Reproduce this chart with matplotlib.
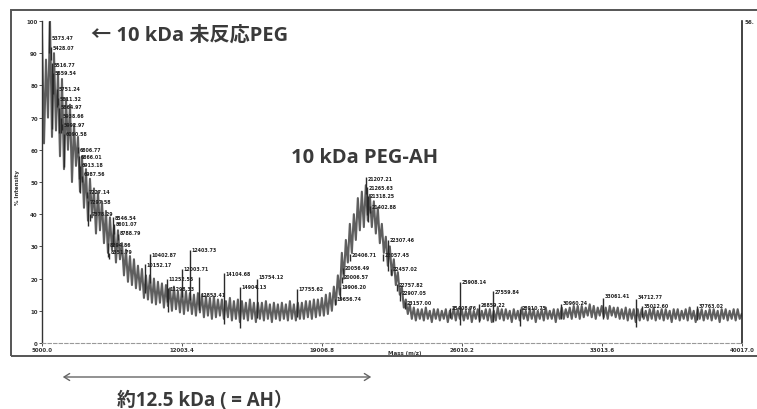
import numpy as np
import matplotlib
matplotlib.use('Agg')
import matplotlib.pyplot as plt
from matplotlib.patches import Rectangle, FancyArrowPatch

plt.rcParams['font.family'] = ['Noto Sans CJK JP', 'DejaVu Sans']

# ---------------- data ----------------
mass_start = 5000.0
mass_step = 100.0
intensity = [
    96, 62, 88, 70, 100, 64, 90, 66, 84, 58,
    82, 54, 76, 60, 74, 50, 68, 55, 64, 47,
    58, 42, 54, 38, 51, 39, 48, 34, 47, 35,
    44, 31, 41, 28, 39, 29, 36, 25, 35, 26,
    31, 21, 29, 19, 27, 18, 26, 17, 24, 16.5,
    23, 14, 21, 13.5, 21, 12.5, 20, 12, 19, 12.5,
    18.5, 11, 18, 11.5, 17, 10, 17.5, 10.5, 16, 9.5,
    16.5, 9, 16, 10, 15.5, 9, 15, 8.5, 15.5, 9.5,
    15, 8, 14.5, 8.5, 14, 7.5, 14.5, 8, 13.5, 8.5,
    13.5, 7.5, 13, 8, 14, 7, 13, 7.5, 13.5, 6.5,
    13, 7.5, 12.5, 7, 13.5, 7.5, 12.5, 6.5, 12.5, 7.5,
    12.5, 7, 13, 7.5, 12, 6.5, 12.5, 7.5, 12, 7,
    12.5, 7.5, 12, 7, 13, 7.5, 12, 7, 12.5, 7.5,
    12.5, 7.5, 13, 8, 13, 7.5, 13.5, 8, 13.5, 8.5,
    14, 8.5, 15, 9, 15.5, 10, 17.5, 12, 21, 15,
    28, 20, 32, 25, 37, 28, 40, 32, 45, 35,
    47, 36, 49, 38, 46, 36, 44, 34, 42, 31,
    37, 28, 33, 24, 30, 21, 26, 18, 22, 15,
    17.5, 11, 13.5, 9, 12, 7.5, 11, 7, 10.5, 7.5,
    10.5, 7, 11, 7.5, 10, 6.5, 10.5, 7.5, 10.5, 7,
    10, 7.5, 10.5, 6.5, 10, 7.5, 11, 7, 10.5, 7.5,
    10.5, 7, 10, 7.5, 11, 6.5, 10, 7.5, 10.5, 7,
    10, 7.5, 10.5, 7, 10.5, 6.5, 10, 7, 11, 7.5,
    10.5, 7, 10.5, 7.5, 10, 6.5, 10.5, 7.5, 10, 7,
    11, 7.5, 10, 7, 10.5, 7.5, 10.5, 6.5, 10, 7.5,
    10.5, 7, 11, 7.5, 10, 7.5, 10.5, 6.5, 10.5, 7.5,
    11, 7.5, 10.5, 8, 11, 7.5, 11.5, 8, 11.5, 7.5,
    11.5, 8, 11, 8.5, 12, 8, 11.5, 7.5, 11, 8.5,
    11.5, 8, 11, 7.5, 11.5, 8.5, 11, 8, 11, 7.5,
    10.5, 7.5, 11, 7, 10.5, 7.5, 10.5, 6.5, 10.5, 7,
    10.5, 7.5, 10, 7, 10.5, 7.5, 11, 7, 10, 7.5,
    10.5, 7, 10.5, 7.5, 10, 6.5, 10.5, 7.5, 10.5, 7,
    10, 7.5, 10.5, 7, 11, 7.5, 10, 6.5, 10.5, 7.5,
    10.5, 7, 10, 7.5, 10.5, 7, 10.5, 7.5, 10, 6.5,
    10.5, 7.5, 10.5, 7, 10, 7.5, 10.5, 7, 10.5, 7.5,
    9,
]

# labelled peaks: mass (m/z), peak height (%), level of its label (%)
peak_masses = [5373.47, 5428.07, 5516.77, 5559.54, 5751.24, 5811.32, 5864.97,
               5938.66, 5992.97, 6090.58, 6806.77, 6866.01, 6913.18, 6987.56,
               7227.14, 7297.58, 7378.29, 8294.86, 8351.79, 8546.54, 8601.07,
               8788.79, 10152.17, 10402.87, 11252.56, 11298.33, 12003.71,
               12403.73, 12853.41, 14104.68, 14904.13, 15754.12, 17755.62,
               19656.74, 19906.20, 20006.57, 20056.49, 20406.71,
               21207.21, 21265.63, 21318.25, 21402.88, 22057.45, 22307.46,
               22457.02, 22757.82, 22907.05, 23157.00,
               25408.76, 25908.14, 26859.22, 27559.84, 28910.75, 30960.24,
               33061.41, 34712.77, 35012.60, 37763.02]
peak_heights = [100, 92, 87, 84, 79, 76, 73, 70, 68, 65, 61, 58, 55, 52,
                47, 44, 40, 31, 28, 39, 37, 34, 24.5, 27.6, 20, 17, 23,
                29, 20.5, 21.7, 17.4, 20, 16.8,
                13.7, 17.4, 20.5, 23.3, 27.6,
                51.6, 48.4, 45.7, 42.5, 27.6, 32, 23, 18.3, 15.8, 12.7,
                11, 19, 12, 16, 10.5, 12, 14, 13.7, 11.5, 11.5]
label_levels = [95, 91.9, 86.6, 83.9, 78.9, 75.8, 73.3, 70.5, 68, 65.2, 60.2,
                57.8, 55.3, 52.5, 46.9, 43.8, 40.1, 30.7, 28.3, 39.1, 37,
                34.2, 24.5, 27.6, 20, 17, 23, 29, 15.2, 21.7, 17.4, 20.8, 16.8,
                13.7, 17.4, 20.5, 23.3, 27.6,
                51, 48.4, 45.7, 42.5, 27.6, 32, 23, 18.3, 15.8, 12.7,
                11, 19, 12, 16, 11, 12.7, 14.6, 14.3, 11.5, 11.8]

x_ticks = [5000.0, 12003.4, 19006.8, 26010.2, 33013.6, 40017.0]
y_ticks = [0, 10, 20, 30, 40, 50, 60, 70, 80, 90, 100]

# ---------------- figure ----------------
W, H = 757, 410
fig = plt.figure(figsize=(W / 100, H / 100), dpi=100)
fig.patch.set_facecolor('white')


def fx(px):
    return px / W


def fy(py):
    return 1 - py / H


ax = fig.add_axes([fx(42), fy(344), 700 / W, 322 / H])
masses = mass_start + mass_step * np.arange(len(intensity))
ax.plot(masses, intensity, color='#5f5f5f', lw=1.5, zorder=2)

base = np.interp(peak_masses, masses, intensity)
ax.vlines(peak_masses, np.minimum(base, peak_heights) - 2, peak_heights,
          color='#2a2a2a', lw=1.0, zorder=3)
for m, lv in zip(peak_masses, label_levels):
    ax.text(m + 90, lv, f"{m:.2f}", fontsize=3.4, color='#222222',
            fontweight='bold', va='center', ha='left', family='DejaVu Sans',
            zorder=4)

ax.set_xlim(5000, 40017)
ax.set_ylim(0, 100)
ax.set_xticks(x_ticks)
ax.set_xticklabels([f"{t:.1f}" for t in x_ticks])
ax.set_yticks(y_ticks)
ax.tick_params(axis='both', labelsize=4, length=2, width=0.6, pad=1,
               colors='#333333')
for lab in ax.get_xticklabels() + ax.get_yticklabels():
    lab.set_fontweight('bold')
    lab.set_family('DejaVu Sans')
ax.spines['top'].set_visible(False)
ax.spines['left'].set_color('#333333')
ax.spines['left'].set_linewidth(1.0)
ax.spines['right'].set_color('#222222')
ax.spines['right'].set_linewidth(1.2)
ax.spines['bottom'].set_color('#999999')
ax.spines['bottom'].set_linewidth(0.8)
ax.spines['bottom'].set_linestyle((0, (3, 2)))
ax.set_facecolor('none')

fig.text(fx(18), fy(188), '% Intensity', rotation=90, fontsize=4,
         fontweight='bold', color='#333333', ha='center', va='center',
         family='DejaVu Sans')
fig.text(fx(388), fy(354), 'Mass (m/z)', fontsize=4, fontweight='bold',
         color='#333333', ha='left', va='center', family='DejaVu Sans')
fig.text(fx(745), fy(22), '56.', fontsize=4, fontweight='bold',
         color='#333333', ha='left', va='center', family='DejaVu Sans')

# outer frame
fig.patches.append(Rectangle((fx(11), fy(357)), 1.2, (357 - 11) / H,
                             transform=fig.transFigure, fill=False,
                             edgecolor='#555555', lw=1.4, clip_on=False))

# annotations
txt_col = '#3a3a3a'
fam = ['Open Sans', 'Noto Sans CJK JP', 'DejaVu Sans']
fig.text(fx(91), fy(36), '← 10 kDa 未反応PEG', fontsize=14.5,
         fontweight='bold', color=txt_col, ha='left', va='center', family=fam)
fig.text(fx(291), fy(158), '10 kDa PEG-AH', fontsize=14.5, fontweight='bold',
         color=txt_col, ha='left', va='center', family=fam)
fig.text(fx(117), fy(401), '約12.5 kDa ( = AH）', fontsize=13.5,
         fontweight='bold', color=txt_col, ha='left', va='center', family=fam)
fig.add_artist(FancyArrowPatch(
    (fx(60), fy(378)), (fx(374), fy(378)), transform=fig.transFigure,
    arrowstyle='<->,head_length=4,head_width=2.5', color='#666666', lw=1.0,
    mutation_scale=1))

fig.savefig('out.png', dpi=100)
